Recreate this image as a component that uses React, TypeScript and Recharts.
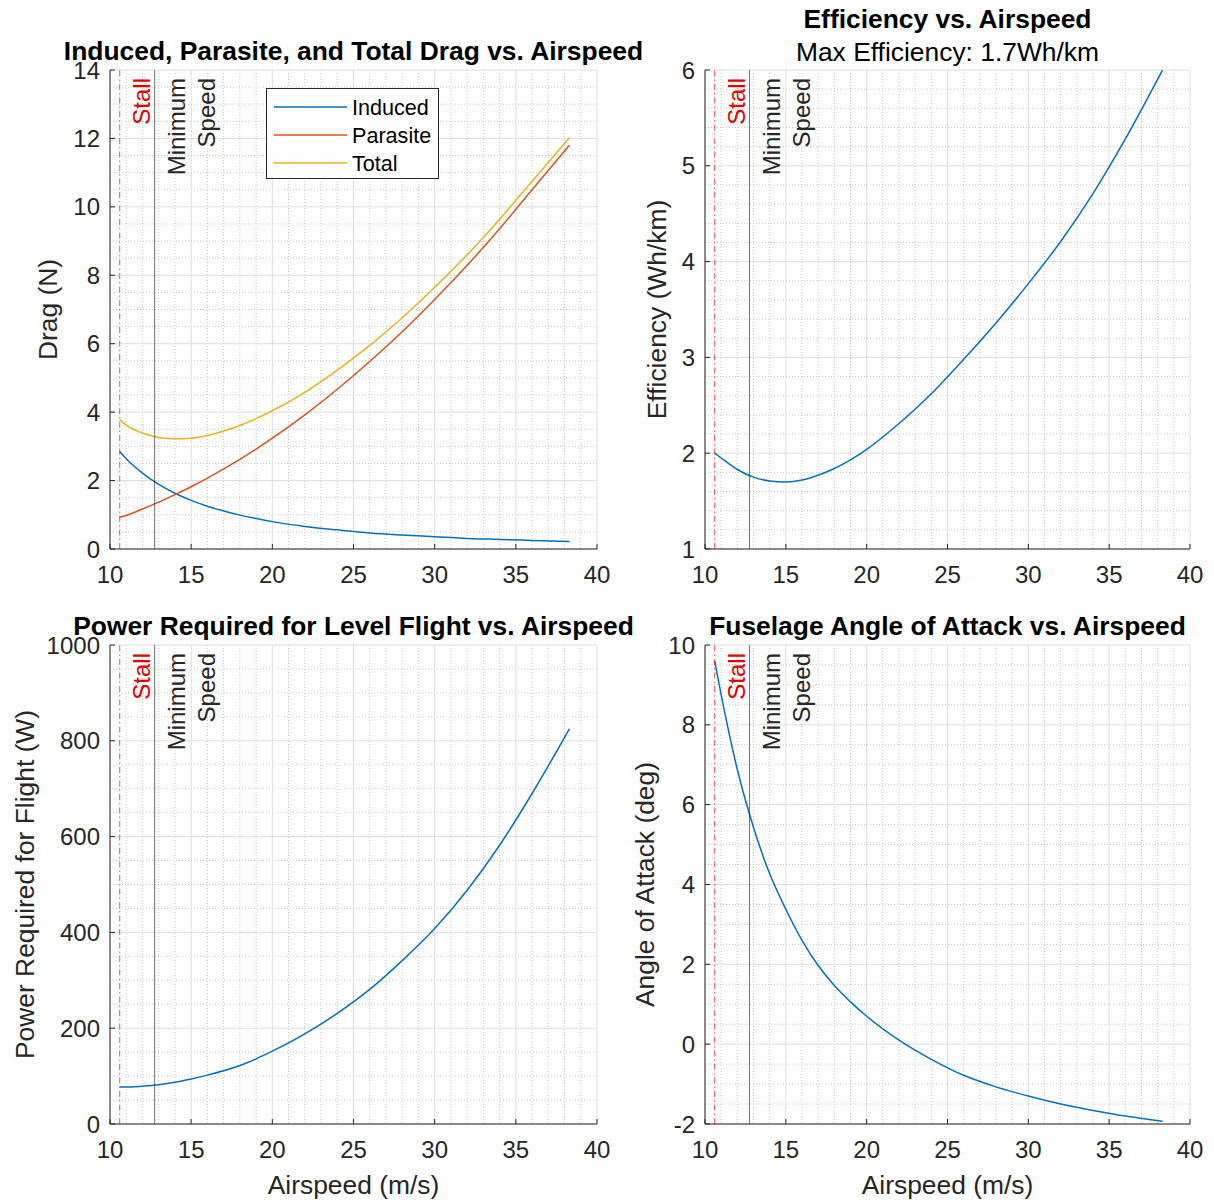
import React from 'react';
import { LineChart, Line, XAxis, YAxis, CartesianGrid, ReferenceLine, Legend } from 'recharts';

// ---------- data ----------
const airspeed = [10.6, 11, 12, 13, 14, 15, 16, 17, 18, 19, 20, 22, 24, 26, 28, 30, 32, 34, 36, 38.3];
const inducedDrag = [2.85, 2.64, 2.22, 1.89, 1.63, 1.42, 1.25, 1.11, 0.99, 0.89, 0.8, 0.66, 0.56, 0.47, 0.41, 0.36, 0.31, 0.28, 0.25, 0.22];
const parasiteDrag = [0.93, 0.98, 1.17, 1.37, 1.59, 1.82, 2.07, 2.34, 2.62, 2.92, 3.24, 3.92, 4.67, 5.48, 6.35, 7.29, 8.29, 9.36, 10.5, 11.8];
const totalDrag = [3.78, 3.62, 3.39, 3.26, 3.22, 3.24, 3.32, 3.45, 3.61, 3.81, 4.04, 4.58, 5.23, 5.95, 6.76, 7.65, 8.6, 9.64, 10.75, 12.02];
const efficiency = [2.0, 1.95, 1.83, 1.75, 1.71, 1.7, 1.72, 1.77, 1.84, 1.93, 2.04, 2.31, 2.62, 2.98, 3.36, 3.77, 4.21, 4.71, 5.28, 6.0];
const powerRequired = [77, 77, 79, 82, 87, 94, 102, 111, 122, 136, 152, 188, 231, 281, 341, 408, 488, 582, 690, 825];
const angleOfAttack = [9.6, 8.75, 6.88, 5.43, 4.27, 3.38, 2.6, 1.97, 1.47, 1.06, 0.7, 0.1, -0.38, -0.78, -1.07, -1.3, -1.5, -1.66, -1.8, -1.93];

const xTicks = [10, 15, 20, 25, 30, 35, 40];
const dragTicks = [0, 2, 4, 6, 8, 10, 12, 14];
const effTicks = [1, 2, 3, 4, 5, 6];
const powerTicks = [0, 200, 400, 600, 800, 1000];
const aoaTicks = [-2, 0, 2, 4, 6, 8, 10];

const stallSpeed = 10.6;
const minSpeed = 12.75;

// ---------- tables built from the arrays ----------
const dragData = airspeed.map((v, i) => ({ v, induced: inducedDrag[i], parasite: parasiteDrag[i], total: totalDrag[i] }));
const effData = airspeed.map((v, i) => ({ v, eff: efficiency[i] }));
const powerData = airspeed.map((v, i) => ({ v, power: powerRequired[i] }));
const aoaData = airspeed.map((v, i) => ({ v, aoa: angleOfAttack[i] }));

const FONT = '"Liberation Sans", Arial, Helvetica, sans-serif';
const AX = '#262626';
const BLUE = '#0072BD';
const ORANGE = '#D95319';
const YELLOW = '#EDB120';

function minorValues(lo: number, hi: number, step: number, major: number[]) {
  const out: number[] = [];
  const n = Math.round((hi - lo) / step);
  for (let i = 0; i <= n; i++) {
    const r = Math.round((lo + i * step) * 1000) / 1000;
    if (!major.some((m) => Math.abs(m - r) < 1e-6)) out.push(r);
  }
  return out;
}

const VLabel = (props: any) => {
  const { viewBox, lines, color } = props;
  if (!viewBox) return null;
  const x = viewBox.x;
  const y = viewBox.y;
  return (
    <g>
      {lines.map((t: string, i: number) => (
        <text
          key={i}
          transform={`translate(${x + 22 + i * 30},${y + 8}) rotate(-90)`}
          textAnchor="end"
          dy={8.5}
          fill={color}
          fontSize={24}
          fontFamily={FONT}
        >
          {t}
        </text>
      ))}
    </g>
  );
};

const renderLegend = (props: any) => {
  const payload = props.payload || [];
  return (
    <svg width={174} height={92} style={{ display: 'block' }}>
      <rect x={0.5} y={0.5} width={172} height={90} fill="#fff" stroke={AX} strokeWidth={1} />
      {payload.map((e: any, i: number) => (
        <g key={i}>
          <line x1={8} x2={81} y1={19 + i * 28} y2={19 + i * 28} stroke={e.color} strokeWidth={1.5} />
          <text x={86} y={19 + i * 28 + 7.7} fontSize={21.6} fontFamily={FONT} fill="#000">
            {e.value}
          </text>
        </g>
      ))}
    </svg>
  );
};

type Series = { key: string; name: string; color: string };

type PanelProps = {
  pos: [number, number];
  size: [number, number];
  plot: { left: number; top: number; right: number; bottom: number };
  data: any[];
  yDomain: [number, number];
  yTicks: number[];
  yMinorStep: number;
  yLabel: string;
  yLabelDist: number;
  xLabel?: string;
  series: Series[];
  legend?: boolean;
};

function Panel(p: PanelProps) {
  const [W, H] = p.size;
  const xAxisH = H - p.plot.bottom;
  const yAxisW = Math.min(100, p.plot.left);
  const yMinor = minorValues(p.yDomain[0], p.yDomain[1], p.yMinorStep, p.yTicks);
  const xMinor = minorValues(10, 40, 1, xTicks);
  const tickStyle = { fill: AX, fontSize: 24, fontFamily: FONT };
  return (
    <div style={{ position: 'absolute', left: p.pos[0], top: p.pos[1], width: W, height: H }}>
      <LineChart
        width={W}
        height={H}
        data={p.data}
        margin={{ top: p.plot.top, left: p.plot.left - yAxisW, right: W - p.plot.right, bottom: 0 }}
      >
        <CartesianGrid verticalValues={xMinor} horizontalValues={yMinor} stroke="#c8c8c8" strokeDasharray="1 2" fill="none" />
        <CartesianGrid stroke="#dedede" fill="none" />
        <XAxis
          dataKey="v"
          type="number"
          domain={[10, 40]}
          ticks={xTicks}
          interval={0}
          allowDataOverflow
          height={xAxisH}
          tickSize={-5}
          tickMargin={22}
          stroke={AX}
          tick={tickStyle}
          label={
            p.xLabel
              ? (lp: any) =>
                  lp.viewBox ? (
                    <text
                      x={lp.viewBox.x + lp.viewBox.width / 2}
                      y={lp.viewBox.y + 70}
                      textAnchor="middle"
                      fontSize={26.4}
                      fontFamily={FONT}
                      fill={AX}
                    >
                      {p.xLabel}
                    </text>
                  ) : null
              : undefined
          }
        />
        <XAxis
          xAxisId="top"
          orientation="top"
          type="number"
          domain={[10, 40]}
          ticks={xTicks}
          interval={0}
          allowDataOverflow
          height={0}
          tickSize={-5}
          tickFormatter={() => ''}
          stroke={AX}
        />
        <YAxis
          type="number"
          domain={p.yDomain}
          ticks={p.yTicks}
          interval={0}
          allowDataOverflow
          width={yAxisW}
          tickSize={-5}
          tickMargin={15}
          stroke={AX}
          tick={tickStyle}
          label={(lp: any) =>
            lp.viewBox ? (
              <text
                transform={`translate(${lp.viewBox.x + lp.viewBox.width - p.yLabelDist},${lp.viewBox.y + lp.viewBox.height / 2}) rotate(-90)`}
                textAnchor="middle"
                dy={9.4}
                fontSize={26.4}
                fontFamily={FONT}
                fill={AX}
              >
                {p.yLabel}
              </text>
            ) : null
          }
        />
        <YAxis
          yAxisId="right"
          orientation="right"
          type="number"
          domain={p.yDomain}
          ticks={p.yTicks}
          interval={0}
          allowDataOverflow
          width={0}
          tickSize={-5}
          tickFormatter={() => ''}
          stroke={AX}
        />
        {p.series.map((s) => (
          <Line
            key={s.key}
            dataKey={s.key}
            name={s.name}
            stroke={s.color}
            strokeWidth={1.5}
            dot={false}
            activeDot={false}
            type="monotone"
            isAnimationActive={false}
          />
        ))}
        <ReferenceLine
          x={stallSpeed}
          stroke="#ff0000"
          strokeOpacity={0.7}
          strokeDasharray="6 3 1.5 3"
          strokeWidth={1}
          label={(lp: any) => <VLabel {...lp} lines={['Stall']} color="#e00000" />}
        />
        <ReferenceLine
          x={minSpeed}
          stroke={AX}
          strokeOpacity={0.65}
          strokeWidth={1}
          label={(lp: any) => <VLabel {...lp} lines={['Minimum', 'Speed']} color={AX} />}
        />
        {p.legend && (
          <Legend
            layout="vertical"
            align="center"
            verticalAlign="middle"
            content={renderLegend}
            wrapperStyle={{ position: 'absolute', left: 266, top: 88, width: 174, height: 92 }}
          />
        )}
      </LineChart>
    </div>
  );
}

export default function App() {
  const titleStyle = { fontFamily: FONT, fill: '#000' };
  return (
    <div style={{ position: 'absolute', left: 0, top: 0, width: 1214, height: 1204, background: '#fff' }}>
      <Panel
        pos={[0, 0]}
        size={[620, 600]}
        plot={{ left: 110, top: 70, right: 597, bottom: 549 }}
        data={dragData}
        yDomain={[0, 14]}
        yTicks={dragTicks}
        yMinorStep={0.5}
        yLabel="Drag (N)"
        yLabelDist={62}
        series={[
          { key: 'induced', name: 'Induced', color: BLUE },
          { key: 'parasite', name: 'Parasite', color: ORANGE },
          { key: 'total', name: 'Total', color: YELLOW },
        ]}
        legend
      />
      <Panel
        pos={[620, 0]}
        size={[594, 600]}
        plot={{ left: 85, top: 70, right: 570, bottom: 549 }}
        data={effData}
        yDomain={[1, 6]}
        yTicks={effTicks}
        yMinorStep={0.2}
        yLabel="Efficiency (Wh/km)"
        yLabelDist={48}
        series={[{ key: 'eff', name: 'Efficiency', color: BLUE }]}
      />
      <Panel
        pos={[0, 600]}
        size={[620, 604]}
        plot={{ left: 110, top: 45, right: 597, bottom: 524 }}
        data={powerData}
        yDomain={[0, 1000]}
        yTicks={powerTicks}
        yMinorStep={50}
        yLabel="Power Required for Flight (W)"
        yLabelDist={85}
        xLabel="Airspeed (m/s)"
        series={[{ key: 'power', name: 'Power', color: BLUE }]}
      />
      <Panel
        pos={[620, 600]}
        size={[594, 604]}
        plot={{ left: 85, top: 45, right: 570, bottom: 524 }}
        data={aoaData}
        yDomain={[-2, 10]}
        yTicks={aoaTicks}
        yMinorStep={0.5}
        yLabel="Angle of Attack (deg)"
        yLabelDist={60}
        xLabel="Airspeed (m/s)"
        series={[{ key: 'aoa', name: 'Angle of Attack', color: BLUE }]}
      />
      <svg width={1214} height={1204} style={{ position: 'absolute', left: 0, top: 0, pointerEvents: 'none' }}>
        <text x={353.5} y={60} textAnchor="middle" fontWeight="bold" fontSize={26.4} {...titleStyle}>
          Induced, Parasite, and Total Drag vs. Airspeed
        </text>
        <text x={947.5} y={28} textAnchor="middle" fontWeight="bold" fontSize={26.4} {...titleStyle}>
          Efficiency vs. Airspeed
        </text>
        <text x={947.5} y={61} textAnchor="middle" fontSize={26.4} {...titleStyle}>
          Max Efficiency: 1.7Wh/km
        </text>
        <text x={353.5} y={635} textAnchor="middle" fontWeight="bold" fontSize={26.4} {...titleStyle}>
          Power Required for Level Flight vs. Airspeed
        </text>
        <text x={947.5} y={635} textAnchor="middle" fontWeight="bold" fontSize={26.4} {...titleStyle}>
          Fuselage Angle of Attack vs. Airspeed
        </text>
      </svg>
    </div>
  );
}
